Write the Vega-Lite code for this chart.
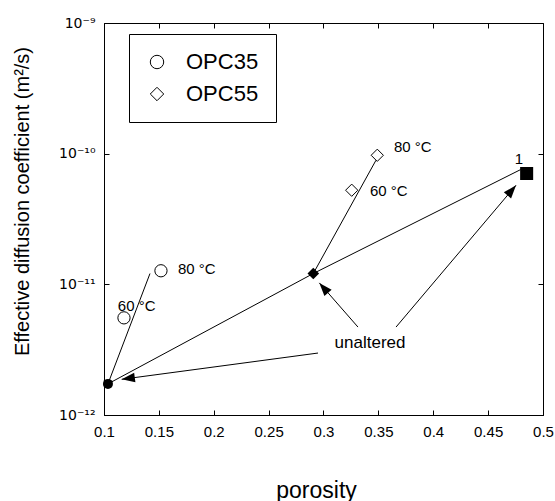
{
  "$schema": "https://vega.github.io/schema/vega-lite/v6.json",
  "width": 439,
  "height": 392,
  "autosize": {"type": "none"},
  "padding": {"left": 104, "top": 23, "right": 12, "bottom": 86},
  "background": "white",
  "config": {
    "font": "Liberation Sans",
    "view": {"stroke": "black", "strokeWidth": 1},
    "axis": {"grid": false, "domainColor": "black", "tickColor": "black", "labelColor": "black", "titleColor": "black", "labelFont": "Liberation Sans", "titleFont": "Liberation Sans", "titleFontWeight": "normal"}
  },
  "datasets": {
    "segments": [
      {"seg": "OPC35", "ord": 1, "p": 0.1036, "D": 1.73e-12},
      {"seg": "OPC35", "ord": 2, "p": 0.1419, "D": 1.21e-11},
      {"seg": "OPC55", "ord": 1, "p": 0.2907, "D": 1.21e-11},
      {"seg": "OPC55", "ord": 2, "p": 0.3478, "D": 8.9e-11},
      {"seg": "unaltered", "ord": 1, "p": 0.1036, "D": 1.73e-12},
      {"seg": "unaltered", "ord": 2, "p": 0.2907, "D": 1.21e-11},
      {"seg": "unaltered", "ord": 3, "p": 0.4797, "D": 7.56e-11},
      {"seg": "arrow1", "ord": 1, "p": 0.295, "D": 2.98e-12},
      {"seg": "arrow1", "ord": 2, "p": 0.1161, "D": 1.875e-12},
      {"seg": "arrow2", "ord": 1, "p": 0.3314, "D": 4.71e-12},
      {"seg": "arrow2", "ord": 2, "p": 0.2962, "D": 1.026e-11},
      {"seg": "arrow3", "ord": 1, "p": 0.3661, "D": 4.71e-12},
      {"seg": "arrow3", "ord": 2, "p": 0.4754, "D": 5.73e-11}
    ],
    "points": [
      {"series": "OPC35", "state": "60 °C", "p": 0.1182, "D": 5.54e-12},
      {"series": "OPC35", "state": "80 °C", "p": 0.1519, "D": 1.27e-11},
      {"series": "OPC55", "state": "60 °C", "p": 0.3257, "D": 5.25e-11},
      {"series": "OPC55", "state": "80 °C", "p": 0.349, "D": 9.72e-11}
    ],
    "solid": [
      {"sample": "OPC35", "p": 0.1036, "D": 1.73e-12},
      {"sample": "OPC55", "p": 0.2907, "D": 1.21e-11},
      {"sample": "1", "p": 0.4851, "D": 7.05e-11}
    ],
    "labels": [
      {"text": "80 °C", "p": 0.1845, "D": 1.3e-11},
      {"text": "60 °C", "p": 0.1298, "D": 6.81e-12},
      {"text": "80 °C", "p": 0.3813, "D": 1.12e-10},
      {"text": "60 °C", "p": 0.3595, "D": 5.16e-11},
      {"text": "1", "p": 0.4781, "D": 9.06e-11}
    ]
  },
  "resolve": {
    "axis": {"x": "independent", "y": "independent"},
    "scale": {"shape": "independent", "size": "independent"}
  },
  "layer": [
    {
      "data": {"name": "segments"},
      "mark": {"type": "line", "color": "black", "strokeWidth": 1},
      "encoding": {
        "x": {"field": "p", "type": "quantitative", "scale": {"domain": [0.1, 0.5], "nice": false, "zero": false},
          "axis": {"orient": "bottom", "values": [0.1, 0.15, 0.2, 0.25, 0.3, 0.35, 0.4, 0.45, 0.5], "format": ".2~f", "labelFontSize": 15, "tickSize": -5, "labelPadding": 14, "labelFlush": false, "labelOverlap": false, "title": "porosity", "titleFontSize": 23, "titleX": 212, "titleY": 75, "titleBaseline": "middle", "titleAlign": "center"}},
        "y": {"field": "D", "type": "quantitative", "scale": {"type": "log", "domain": [1e-12, 1e-9], "nice": false},
          "axis": {"orient": "left", "values": [1e-12, 1e-11, 1e-10, 1e-9], "labelExpr": "datum.value > 5e-10 ? '10⁻⁹' : datum.value > 5e-11 ? '10⁻¹⁰' : datum.value > 5e-12 ? '10⁻¹¹' : '10⁻¹²'", "labelFont": "DejaVu Sans", "labelFontSize": 14, "tickSize": -5, "labelPadding": 14, "labelFlush": false, "labelOverlap": false, "title": "Effective diffusion coefficient (m²/s)", "titleFontSize": 20, "titleX": -82, "titleY": 178, "titleAngle": -90, "titleBaseline": "middle", "titleAlign": "center"}},
        "detail": {"field": "seg"},
        "order": {"field": "ord", "type": "quantitative"}
      }
    },
    {
      "data": {"name": "segments"},
      "transform": [{"filter": "datum.seg === 'arrow1' && datum.ord === 2"}],
      "mark": {"type": "point", "shape": "M0,0L-0.36,1L0.36,1Z", "filled": true, "color": "black", "opacity": 1, "size": 700, "angle": 262.4},
      "encoding": {
        "x": {"field": "p", "type": "quantitative", "axis": null},
        "y": {"field": "D", "type": "quantitative", "scale": {"type": "log"}, "axis": null}
      }
    },
    {
      "data": {"name": "segments"},
      "transform": [{"filter": "datum.seg === 'arrow2' && datum.ord === 2"}],
      "mark": {"type": "point", "shape": "M0,0L-0.36,1L0.36,1Z", "filled": true, "color": "black", "opacity": 1, "size": 700, "angle": 318.9},
      "encoding": {
        "x": {"field": "p", "type": "quantitative", "axis": null},
        "y": {"field": "D", "type": "quantitative", "scale": {"type": "log"}, "axis": null}
      }
    },
    {
      "data": {"name": "segments"},
      "transform": [{"filter": "datum.seg === 'arrow3' && datum.ord === 2"}],
      "mark": {"type": "point", "shape": "M0,0L-0.36,1L0.36,1Z", "filled": true, "color": "black", "opacity": 1, "size": 700, "angle": 40.2},
      "encoding": {
        "x": {"field": "p", "type": "quantitative", "axis": null},
        "y": {"field": "D", "type": "quantitative", "scale": {"type": "log"}, "axis": null}
      }
    },
    {
      "data": {"name": "points"},
      "mark": {"type": "point", "filled": false, "color": "black", "strokeWidth": 1, "opacity": 1, "size": 150},
      "encoding": {
        "x": {"field": "p", "type": "quantitative",
          "axis": {"orient": "top", "values": [0.15, 0.2, 0.25, 0.3, 0.35, 0.4, 0.45], "labels": false, "title": null, "tickSize": -5, "domain": true}},
        "y": {"field": "D", "type": "quantitative", "scale": {"type": "log"},
          "axis": {"orient": "right", "values": [1e-11, 1e-10], "labels": false, "title": null, "tickSize": -5, "domain": true}},
        "shape": {"field": "series", "type": "nominal", "scale": {"domain": ["OPC35", "OPC55"], "range": ["circle", "diamond"]},
          "legend": {"title": null, "orient": "none", "legendX": 25, "legendY": 11, "strokeColor": "black", "fillColor": "white", "padding": 17, "labelFontSize": 22, "labelFont": "Liberation Sans", "labelColor": "black", "symbolSize": 180, "symbolStrokeWidth": 1, "symbolStrokeColor": "black", "symbolFillColor": "transparent", "symbolOpacity": 1, "rowPadding": 10, "labelOffset": 18}}
      }
    },
    {
      "data": {"name": "solid"},
      "mark": {"type": "point", "filled": true, "color": "black", "opacity": 1},
      "encoding": {
        "x": {"field": "p", "type": "quantitative", "axis": null},
        "y": {"field": "D", "type": "quantitative", "scale": {"type": "log"}, "axis": null},
        "shape": {"field": "sample", "type": "nominal", "scale": {"domain": ["OPC35", "OPC55", "1"], "range": ["circle", "diamond", "square"]}, "legend": null},
        "size": {"field": "sample", "type": "nominal", "scale": {"domain": ["OPC35", "OPC55", "1"], "range": [100, 170, 130]}, "legend": null}
      }
    },
    {
      "data": {"name": "labels"},
      "mark": {"type": "text", "fontSize": 15, "font": "Liberation Sans", "color": "black", "align": "center", "baseline": "middle"},
      "encoding": {
        "x": {"field": "p", "type": "quantitative", "axis": null},
        "y": {"field": "D", "type": "quantitative", "scale": {"type": "log"}, "axis": null},
        "text": {"field": "text"}
      }
    },
    {
      "data": {"values": [{"text": "unaltered", "p": 0.3424, "D": 3.55e-12}]},
      "mark": {"type": "text", "fontSize": 17, "font": "Liberation Sans", "color": "black", "align": "center", "baseline": "middle"},
      "encoding": {
        "x": {"field": "p", "type": "quantitative", "axis": null},
        "y": {"field": "D", "type": "quantitative", "scale": {"type": "log"}, "axis": null},
        "text": {"field": "text"}
      }
    }
  ]
}
